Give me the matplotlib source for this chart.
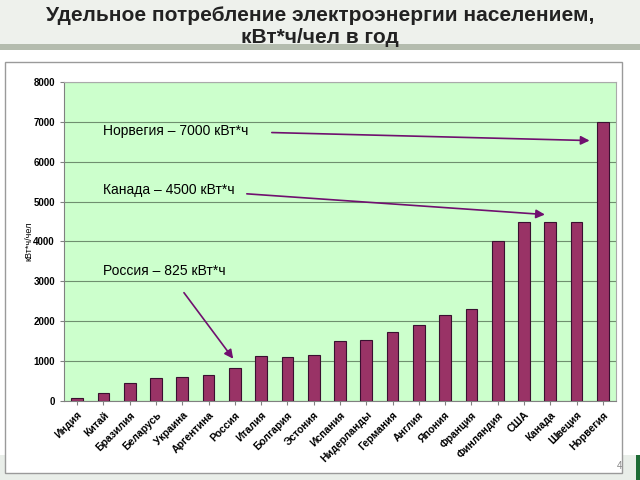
import numpy as np
import matplotlib.pyplot as plt
from matplotlib.patches import Rectangle

countries = ['Индия', 'Китай', 'Бразилия', 'Беларусь', 'Украина', 'Аргентина',
             'Россия', 'Италия', 'Болгария', 'Эстония', 'Испания', 'Нидерланды',
             'Германия', 'Англия', 'Япония', 'Франция', 'Финляндия', 'США',
             'Канада', 'Швеция', 'Норвегия']
values = [60, 200, 450, 560, 600, 650, 825, 1120, 1100, 1150, 1500, 1520,
          1720, 1900, 2150, 2300, 4000, 4500, 4500, 4500, 7000]
yticks = [0, 1000, 2000, 3000, 4000, 5000, 6000, 7000, 8000]

plt.rcParams['font.family'] = ['Liberation Sans', 'DejaVu Sans']

fig = plt.figure(figsize=(6.4, 4.8), dpi=100)
fig.patch.set_facecolor('white')

# header band and footer band
fig.patches.append(Rectangle((0, 0.906), 1, 0.094, transform=fig.transFigure,
                             facecolor='#eef1ec', edgecolor='none', zorder=0))
fig.patches.append(Rectangle((0, 0.896), 1, 0.012, transform=fig.transFigure,
                             facecolor='#b4bcae', edgecolor='none', zorder=0))
fig.patches.append(Rectangle((0, 0), 1, 0.052, transform=fig.transFigure,
                             facecolor='#e9eee9', edgecolor='none', zorder=0))
fig.patches.append(Rectangle((0.993, 0), 0.007, 0.052, transform=fig.transFigure,
                             facecolor='#1d6b35', edgecolor='none', zorder=0))
# white chart panel
fig.patches.append(Rectangle((0.008, 0.015), 0.964, 0.855, transform=fig.transFigure,
                             facecolor='white', edgecolor='#9a9a9a', lw=1.0, zorder=1))

fig.text(0.5, 0.967, 'Удельное потребление электроэнергии населением,',
         ha='center', va='center', fontsize=15, fontweight='bold', color='#222222')
fig.text(0.5, 0.922, 'кВт*ч/чел в год', ha='center', va='center',
         fontsize=15, fontweight='bold', color='#222222')
fig.text(0.968, 0.03, '4', ha='center', va='center', fontsize=7, color='#888888')

ax = fig.add_axes([0.1, 0.165, 0.8625, 0.664])
ax.set_zorder(2)
ax.set_facecolor('#ccffcc')
x = np.arange(len(countries))
ax.bar(x, values, width=0.45, color='#993366', edgecolor='#3a1030', linewidth=0.8, zorder=3)
ax.set_xlim(-0.5, len(countries) - 0.5)
ax.set_ylim(0, 8000)
ax.set_yticks(yticks)
ax.set_yticklabels([str(v) for v in yticks], fontsize=7, fontweight='bold')
ax.yaxis.grid(True, color='#6f8f6f', lw=0.8, zorder=1)
ax.set_xticks(x)
ax.set_xticklabels(countries, rotation=45, ha='right', rotation_mode='anchor',
                   fontsize=7.5, fontweight='bold')
ax.set_ylabel('кВт*ч/чел', fontsize=6.5)
ax.yaxis.set_label_coords(-0.055, 0.5)
for s in ['top', 'right']:
    ax.spines[s].set_color('#aaaaaa')
for s in ['left', 'bottom']:
    ax.spines[s].set_color('#808080')
ax.tick_params(axis='both', length=3, color='#808080')

arrow = dict(arrowstyle='-|>', color='#70106f', lw=1.2, mutation_scale=13)
ax.annotate('', xy=(19.6, 6530), xytext=(7.3, 6735), arrowprops=arrow, zorder=5)
ax.annotate('', xy=(17.9, 4670), xytext=(6.35, 5200), arrowprops=arrow, zorder=5)
ax.annotate('', xy=(6.0, 1000), xytext=(4.0, 2770), arrowprops=arrow, zorder=5)
ax.text(1.0, 6760, 'Норвегия – 7000 кВт*ч', fontsize=10, va='center', zorder=5)
ax.text(1.0, 5280, 'Канада – 4500 кВт*ч', fontsize=10, va='center', zorder=5)
ax.text(1.0, 3270, 'Россия – 825 кВт*ч', fontsize=10, va='center', zorder=5)

fig.savefig('out.png', dpi=100)
